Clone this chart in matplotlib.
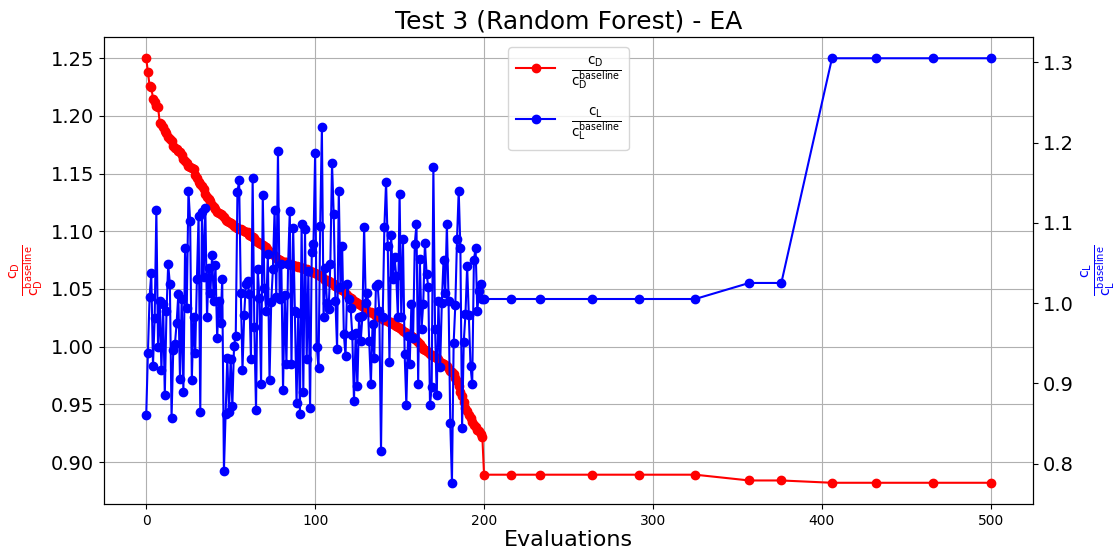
import matplotlib
matplotlib.use("Agg")
import matplotlib.pyplot as plt
import numpy as np

# evaluaciones 0..199 (poblacion inicial), luego las mejoras posteriores
cd_inicial = [
    1.250, 1.238, 1.226, 1.225, 1.215, 1.212, 1.209, 1.208, 1.194, 1.193,
    1.190, 1.187, 1.185, 1.182, 1.180, 1.178, 1.174, 1.172, 1.171, 1.170,
    1.169, 1.166, 1.163, 1.161, 1.159, 1.157, 1.156, 1.155, 1.154, 1.149,
    1.146, 1.143, 1.141, 1.139, 1.137, 1.132, 1.130, 1.128, 1.126, 1.123,
    1.121, 1.119, 1.117, 1.116, 1.115, 1.114, 1.112, 1.110, 1.109, 1.108,
    1.107, 1.106, 1.105, 1.104, 1.103, 1.102, 1.102, 1.101, 1.100, 1.099,
    1.099, 1.097, 1.096, 1.095, 1.094, 1.092, 1.091, 1.090, 1.089, 1.088,
    1.087, 1.086, 1.084, 1.082, 1.081, 1.080, 1.079, 1.077, 1.076, 1.075,
    1.074, 1.073, 1.073, 1.073, 1.072, 1.072, 1.071, 1.071, 1.070, 1.070,
    1.069, 1.069, 1.068, 1.068, 1.067, 1.067, 1.066, 1.066, 1.065, 1.065,
    1.064, 1.063, 1.062, 1.061, 1.060, 1.059, 1.058, 1.058, 1.057, 1.056,
    1.055, 1.054, 1.053, 1.052, 1.051, 1.050, 1.049, 1.048, 1.046, 1.045,
    1.043, 1.042, 1.041, 1.040, 1.039, 1.038, 1.037, 1.036, 1.035, 1.034,
    1.032, 1.031, 1.030, 1.030, 1.029, 1.028, 1.027, 1.027, 1.026, 1.025,
    1.024, 1.023, 1.023, 1.022, 1.021, 1.021, 1.020, 1.019, 1.018, 1.017,
    1.016, 1.015, 1.014, 1.013, 1.012, 1.011, 1.010, 1.009, 1.008, 1.007,
    1.006, 1.004, 1.002, 1.000, 0.998, 0.997, 0.996, 0.995, 0.994, 0.993,
    0.992, 0.991, 0.990, 0.989, 0.987, 0.986, 0.985, 0.984, 0.983, 0.981,
    0.979, 0.978, 0.976, 0.973, 0.970, 0.966, 0.961, 0.957, 0.952, 0.947,
    0.944, 0.941, 0.938, 0.935, 0.932, 0.930, 0.928, 0.927, 0.924, 0.922,
]

cl_inicial = [
    0.860, 0.938, 1.008, 1.037, 0.922, 0.981, 1.116, 0.945, 1.002, 0.916,
    0.999, 0.885, 0.990, 1.048, 1.024, 0.857, 0.941, 0.949, 0.975, 1.011,
    0.905, 1.005, 0.889, 1.069, 0.994, 1.140, 1.102, 0.904, 0.982, 0.938,
    1.030, 1.109, 0.864, 1.113, 1.032, 1.119, 0.982, 1.044, 1.013, 1.060,
    1.003, 1.047, 0.957, 1.003, 0.975, 1.030, 0.791, 0.862, 0.932,
    0.864, 0.930, 0.872, 0.947, 0.959, 1.138, 1.153, 1.013, 0.917,
    0.985, 1.024, 1.027, 1.011, 0.930, 1.156, 0.970, 0.867, 1.042, 1.006,
    0.899, 1.134, 1.019, 0.990, 1.061, 0.904, 1.001, 1.043, 1.116, 1.007,
    1.189, 1.005, 1.048, 0.891, 1.010, 0.924, 1.048, 1.115, 0.924, 1.093,
    0.990, 0.875, 0.988, 0.862, 1.099, 0.889, 1.092, 0.930, 1.040, 0.869,
    1.063, 1.073, 1.187, 0.945, 0.919,
    1.096, 1.219, 0.982, 1.044, 1.000, 0.992, 1.048, 1.174, 1.111, 1.003,
    0.943, 1.140, 1.020, 1.071, 0.961, 0.934, 1.024, 1.005, 0.994, 0.960,
    0.878, 0.963, 0.896, 0.982, 0.953, 0.984, 1.095, 1.000, 1.012, 0.953,
    0.899, 0.974, 0.932, 1.021, 1.024, 0.990, 0.815, 0.982, 1.095, 1.151,
    1.071, 0.927, 1.085, 1.030, 1.057, 1.034, 0.982, 1.136,
    0.983, 1.080, 0.936, 0.873, 0.959, 0.924, 0.999, 0.957, 1.074, 1.098,
    0.899, 1.055, 0.968, 0.999, 1.075, 1.036, 1.020, 0.873, 0.895, 1.169,
    0.968, 0.885, 1.003, 0.920, 1.000, 1.053, 1.012, 1.098, 1.003, 0.851,
    0.776, 0.950, 0.998, 1.080, 1.140, 1.068, 0.844, 0.952, 0.986, 1.046,
    0.985, 0.921, 0.899, 1.054, 1.068, 0.990, 1.015, 1.024, 1.005,
]

eval_posterior = [200, 216, 233, 264, 292, 325, 357, 376, 406, 432, 466, 500]
cd_posterior = [0.889, 0.889, 0.889, 0.889, 0.889, 0.889,
                0.884, 0.884, 0.882, 0.882, 0.882, 0.882]
cl_posterior = [1.005, 1.005, 1.005, 1.005, 1.005, 1.005,
                1.025, 1.025, 1.305, 1.305, 1.305, 1.305]

evaluaciones = list(range(len(cd_inicial))) + eval_posterior
cd = cd_inicial + cd_posterior
cl = cl_inicial + cl_posterior

etiqueta_cd = r'$\frac{\mathrm{c_D}}{\mathrm{c_D^{baseline}}}$'
etiqueta_cl = r'$\frac{\mathrm{c_L}}{\mathrm{c_L^{baseline}}}$'

fig = plt.figure(figsize=(11.17, 5.51), dpi=100)
ax1 = fig.add_axes([0.0931, 0.0853, 0.8317, 0.8475])
ax2 = ax1.twinx()

l1, = ax1.plot(evaluaciones, cd, 'o-', color='red', markersize=6, label=etiqueta_cd)
l2, = ax2.plot(evaluaciones, cl, 'o-', color='blue', markersize=6, label=etiqueta_cl)

ax1.set_title('Test 3 (Random Forest) - EA', fontsize=18)
ax1.set_xlabel('Evaluations', fontsize=16, labelpad=2)
ax1.set_ylabel(etiqueta_cd, color='red', fontsize=14.5)
ax2.set_ylabel(etiqueta_cl, color='blue', fontsize=14.5)

ax1.tick_params(axis='y', labelsize=14)
ax1.tick_params(axis='x', labelsize=10)
ax2.tick_params(axis='y', labelsize=14)
ax1.set_yticks([0.90, 0.95, 1.00, 1.05, 1.10, 1.15, 1.20, 1.25])
ax1.grid(True)

ax1.legend(handles=[l1, l2], loc='upper center', fontsize=14, labelspacing=0.7)

fig.savefig('out.png')
